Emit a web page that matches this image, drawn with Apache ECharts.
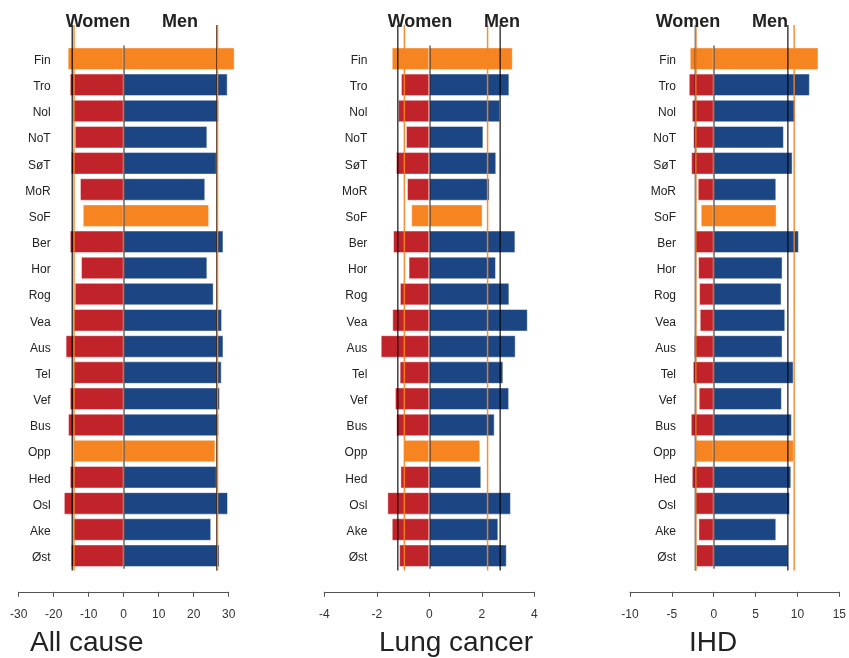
<!DOCTYPE html>
<html>
<head>
<meta charset="utf-8">
<script src="https://cdn.jsdelivr.net/npm/echarts@6/dist/echarts.min.js"></script>
<style>
html,body{margin:0;padding:0;background:#fff;}
#c{width:849px;height:658px;}
</style>
</head>
<body>
<div id="c"></div>
<script>
var categories = ['Fin','Tro','Nol','NoT','SøT','MoR','SoF','Ber','Hor','Rog','Vea','Aus','Tel','Vef','Bus','Opp','Hed','Osl','Ake','Øst'];
var highlighted = ['Fin','SoF','Opp'];

var allWomen = [-16.0,-15.4,-14.6,-14.0,-15.1,-12.5,-11.7,-15.4,-12.2,-14.0,-14.4,-16.6,-14.5,-15.4,-15.9,-14.4,-15.4,-17.1,-14.5,-15.1];
var allMen   = [31.7,29.7,27.2,23.9,26.6,23.3,24.4,28.5,23.9,25.7,28.1,28.5,28.0,27.5,27.2,26.2,26.6,29.8,25.0,27.4];
var lungWomen = [-1.43,-1.08,-1.19,-0.89,-1.27,-0.85,-0.69,-1.38,-0.79,-1.12,-1.41,-1.85,-1.13,-1.31,-1.26,-0.98,-1.10,-1.60,-1.43,-1.15];
var lungMen   = [3.18,3.05,2.70,2.06,2.55,2.30,2.03,3.28,2.54,3.05,3.75,3.29,2.82,3.04,2.49,1.94,1.98,3.11,2.63,2.95];
var ihdWomen = [-2.86,-2.98,-2.62,-2.46,-2.70,-1.91,-1.55,-2.26,-1.87,-1.75,-1.67,-2.35,-2.50,-1.79,-2.74,-2.19,-2.62,-2.23,-1.83,-2.11];
var ihdMen   = [12.51,11.48,9.77,8.38,9.42,7.47,7.51,10.17,8.22,8.10,8.54,8.22,9.54,8.14,9.33,9.57,9.26,9.10,7.47,8.90];

// reference lines [women, men]
var allBlackRef = [-14.7, 26.6];
var allOrangeRef = [-14.2, 26.8];
var lungBlackRef = [-1.20, 2.70];
var lungOrangeRef = [-0.95, 2.22];
var ihdBlackRef = [-2.2, 8.82];
var ihdOrangeRef = [-2.15, 9.57];

var panelTitles = ['All cause', 'Lung cancer', 'IHD'];
var axisMins = [-30, -4, -10];
var axisMaxs = [30, 4, 15];
var axisIntervals = [10, 2, 5];

var RED = '#C1232B', BLUE = '#1B4583', ORANGE = '#F58421';

var panels = [
  {w: allWomen, m: allMen, black: allBlackRef, orange: allOrangeRef, left: 18.7, width: 210, labelMargin: -32, wx: 98, mx: 180, tx: 30},
  {w: lungWomen, m: lungMen, black: lungBlackRef, orange: lungOrangeRef, left: 324.3, width: 210, labelMargin: -43, wx: 420, mx: 502, tx: 379},
  {w: ihdWomen, m: ihdMen, black: ihdBlackRef, orange: ihdOrangeRef, left: 630, width: 209.7, labelMargin: -46, wx: 688, mx: 770, tx: 689}
];

var grid = [], xAxis = [], yAxis = [], series = [], graphic = [];
var FONT = 'Liberation Sans, Arial, Helvetica, sans-serif';

panels.forEach(function (p, i) {
  var gBar = grid.length;
  grid.push({left: p.left, width: p.width, top: 45.6, bottom: 658 - 568.8, containLabel: false});
  var gLine = grid.length;
  grid.push({left: p.left, width: p.width, top: 25, bottom: 658 - 570.5, containLabel: false});

  xAxis.push({
    gridIndex: gBar, type: 'value', min: axisMins[i], max: axisMaxs[i], interval: axisIntervals[i],
    position: 'bottom', offset: 23,
    axisLine: {show: true, lineStyle: {color: '#555', width: 1}},
    axisTick: {show: true, length: 5, inside: false, lineStyle: {color: '#555'}},
    axisLabel: {color: '#333', fontSize: 12, fontFamily: FONT, margin: 17},
    splitLine: {show: false}
  });
  xAxis.push({
    gridIndex: gLine, type: 'value', min: axisMins[i], max: axisMaxs[i], show: false
  });
  yAxis.push({
    gridIndex: gBar, type: 'category', data: categories, inverse: true,
    axisLine: {show: false}, axisTick: {show: false},
    axisLabel: {color: '#222', fontSize: 12, fontFamily: FONT, margin: p.labelMargin, verticalAlign: 'top', lineHeight: 4}
  });
  yAxis.push({gridIndex: gLine, type: 'value', min: 0, max: 1, show: false});

  var xb = i * 2, yb = i * 2;
  series.push({
    type: 'bar', xAxisIndex: xb, yAxisIndex: yb, barWidth: 22.5, barGap: '-100%', z: 2, clip: false,
    data: p.w.map(function (v, k) {
      return {value: v, itemStyle: {color: highlighted.indexOf(categories[k]) >= 0 ? ORANGE : RED}};
    }),
    itemStyle: {borderColor: 'rgba(255,255,255,0.45)', borderWidth: 1},
    silent: true
  });
  series.push({
    type: 'bar', xAxisIndex: xb, yAxisIndex: yb, barWidth: 22.5, barGap: '-100%', z: 2, clip: false,
    data: p.m.map(function (v, k) {
      return {value: v, itemStyle: {color: highlighted.indexOf(categories[k]) >= 0 ? ORANGE : BLUE}};
    }),
    itemStyle: {borderColor: 'rgba(255,255,255,0.45)', borderWidth: 1},
    silent: true,
    markLine: {
      silent: true, symbol: 'none', label: {show: false},
      lineStyle: {color: 'rgba(0,0,0,0.6)', width: 1.5, type: 'solid'},
      data: [{xAxis: 0}]
    }
  });

  var xl = i * 2 + 1, yl = i * 2 + 1;
  function refLine(v, color) {
    series.push({
      type: 'line', xAxisIndex: xl, yAxisIndex: yl, z: 5, silent: true,
      symbol: 'none', lineStyle: {color: color, width: 1.5},
      data: [[v, 0], [v, 1]]
    });
  }
  p.black.forEach(function (v) { refLine(v, 'rgba(0,0,0,0.75)'); });
  p.orange.forEach(function (v) { refLine(v, 'rgba(245,132,33,0.9)'); });

  graphic.push({type: 'text', z: 10, style: {x: p.wx, y: 22, text: 'Women', align: 'center', verticalAlign: 'middle', fill: '#222', font: 'bold 18px ' + FONT}});
  graphic.push({type: 'text', z: 10, style: {x: p.mx, y: 22, text: 'Men', align: 'center', verticalAlign: 'middle', fill: '#222', font: 'bold 18px ' + FONT}});
  graphic.push({type: 'text', z: 10, style: {x: p.tx, y: 643, text: panelTitles[i], align: 'left', verticalAlign: 'middle', fill: '#222', font: '28px ' + FONT}});
});

var chart = echarts.init(document.getElementById('c'), null, {renderer: 'canvas'});
chart.setOption({
  animation: false,
  backgroundColor: '#fff',
  grid: grid, xAxis: xAxis, yAxis: yAxis, series: series, graphic: graphic
});
</script>
</body>
</html>
